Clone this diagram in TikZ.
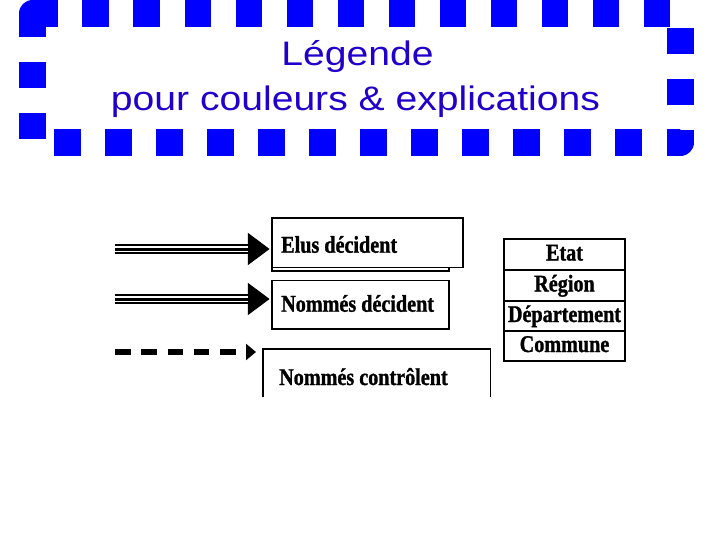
\documentclass[tikz,border=0pt]{standalone}
\usepackage{fontspec}
\usepackage{graphicx}
\usetikzlibrary{arrows.meta}
\newfontfamily\titlefont[FakeStretch=1.15]{Liberation Sans}
\newfontfamily\boxfont[FakeStretch=0.84, FakeBold=1.2]{Liberation Serif}
\definecolor{frameblue}{RGB}{0,0,255}
\definecolor{titleblue}{RGB}{34,0,204}
\begin{document}
\begin{tikzpicture}[x=1pt,y=-1pt,
  framestyle/.style={draw=frameblue, line width=27pt, line join=round},
  titletext/.style={font=\titlefont\fontsize{34}{40}\selectfont, text=titleblue, inner sep=0pt, anchor=base},
  legendtext/.style={font=\boxfont\bfseries\fontsize{24}{28}\selectfont, inner sep=0pt, anchor=base west},
  legendbox/.style={draw=black, line width=1.5pt, fill=white, inner sep=0pt},
  rowbox/.style={draw=black, line width=1.5pt, minimum width=121pt, inner sep=0pt,
    text height=16pt, text depth=4pt, font=\boxfont\bfseries\fontsize{24}{28}\selectfont},
  triplebody/.style={draw=black, line width=10.3pt, -{Triangle[length=22pt,width=31pt]}, shorten >=1.5pt},
  tripleinner/.style={draw=white, line width=1.3pt, double=black, double distance=3pt},
  controlarrow/.style={draw=black, line width=6pt, dash pattern=on 15.5pt off 10.8pt,
    -{Triangle[length=10pt,width=16pt]}, shorten >=7pt}
]
\useasboundingbox (0,0) rectangle (720,540);
\fill[white] (0,0) rectangle (720,540);

% dashed blue frame
\draw[framestyle, dash pattern=on 26.5pt off 24.54pt, dash phase=2.6pt]
  (32.5,13.5) -- (32.5,142.5) -- (680.5,142.5) -- (680.5,13.5) -- cycle;
\draw[framestyle] (32.5,37) -- (32.5,13.5) -- (58,13.5);

% title
\node[titletext] (title1) at (357.5,65.7) {Légende};
\node[titletext] (title2) at (355.5,110.7) {pour couleurs \& explications};

% legend boxes
\node[legendbox, minimum width=177pt, minimum height=46pt] (box1s) at (360.5,248) {};
\node[legendbox, minimum width=191pt, minimum height=49.5pt] (box1) at (367.5,242.75) {};
\node[legendtext] (telus) at (281,252.7) {Elus décident};

\node[legendbox, minimum width=177pt, minimum height=48.5pt] (box2) at (360.5,304.75) {};
\node[legendtext] (tnommes) at (281,311.7) {Nommés décident};

\node[minimum width=227pt, minimum height=48pt, inner sep=0pt, anchor=north west] (box3) at (263,349) {};
\draw[black, line width=1.5pt] (box3.south west) -- (box3.north west) -- (box3.north east) -- (box3.south east);
\node[legendtext] (tcontrol) at (279,385) {Nommés contrôlent};

% arrows
\coordinate (s1) at (115,249);
\coordinate (h1) at (248,249);
\draw[triplebody] (s1) -- (s1 -| box1.west);
\draw[tripleinner] (s1) -- (h1);

\coordinate (s2) at (115,299);
\coordinate (h2) at (248,299);
\draw[triplebody] (s2) -- (s2 -| box2.west);
\draw[tripleinner] (s2) -- (h2);

\coordinate (s3) at (115,352);
\draw[controlarrow] (s3) -- (s3 -| box3.west);

% levels table
\node[rowbox, minimum height=31pt] (etat) at (564.5,254.5) {Etat};
\node[rowbox, minimum height=31pt] (region) at (564.5,285.5) {Région};
\node[rowbox, minimum height=30pt] (dept) at (564.5,316) {Département};
\node[rowbox, minimum height=30pt] (commune) at (564.5,346) {Commune};
\end{tikzpicture}
\end{document}
